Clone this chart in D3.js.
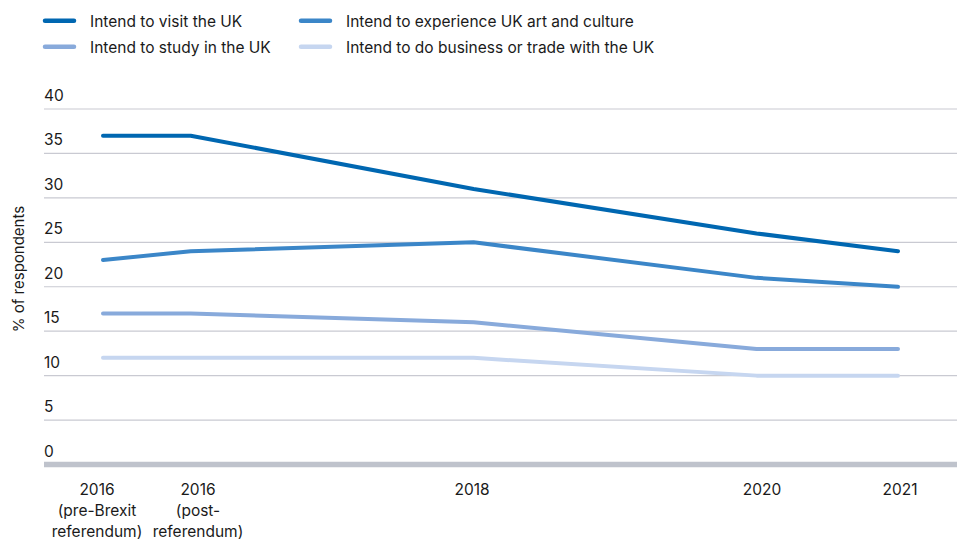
<!DOCTYPE html>
<html><head><meta charset="utf-8">
<script src="https://cdn.jsdelivr.net/npm/d3@7"></script>
<style>
body{margin:0;background:#fff;}
svg text{font-family:Inter,Roboto,"Noto Sans",sans-serif;fill:#1a1a1a;}
</style></head>
<body><svg id="c" width="957" height="540"></svg>
<script>
const categories = [["2016","(pre-Brexit","referendum)"],["2016","(post-","referendum)"],["2018"],["2020"],["2021"]];
const xValues = [2015.38, 2016, 2018, 2020, 2021];
const seriesNames = ["Intend to visit the UK","Intend to experience UK art and culture","Intend to study in the UK","Intend to do business or trade with the UK"];
const visit = [37, 37, 31, 26, 24];
const art = [23, 24, 25, 21, 20];
const study = [17, 17, 16, 13, 13];
const business = [12, 12, 12, 10, 10];
const yTicks = [0,5,10,15,20,25,30,35,40];
const colors = ["#0067b1","#3b86c8","#88aadb","#c6d6f0"];

const svg = d3.select("#c");
const x = d3.scaleLinear().domain([xValues[0], xValues[4]]).range([103, 898]);
// tick labels sit slightly off the data points in the reference
const xl = d3.scaleLinear().domain(xValues).range([97, 198, 472, 762, 900]);
const y = d3.scaleLinear().domain([0,40]).range([464.5, 109]);

// gridlines
svg.append("g").selectAll("line").data(yTicks.filter(d=>d>0)).join("line")
  .attr("x1",44).attr("x2",957).attr("y1",d=>y(d)).attr("y2",d=>y(d))
  .attr("stroke","#c9cad2").attr("stroke-width",1.2);
svg.append("line").attr("x1",44).attr("x2",957).attr("y1",y(0)).attr("y2",y(0))
  .attr("stroke","#bfc3cc").attr("stroke-width",5.5);
svg.append("g").selectAll("text").data(yTicks).join("text")
  .attr("x",44).attr("y",d=>y(d)-8).attr("font-size",15.5).text(d=>d);

svg.append("text").attr("transform","translate(24,269) rotate(-90)")
  .attr("text-anchor","middle").attr("font-size",15).text("% of respondents");

// x labels
const xg = svg.append("g").selectAll("text").data(categories).join("text")
  .attr("text-anchor","middle").attr("font-size",15.5)
  .attr("transform",(d,i)=>`translate(${xl(xValues[i])},495)`);
xg.selectAll("tspan").data(d=>d).join("tspan").attr("x",0).attr("dy",(d,i)=>i?21:0).text(d=>d);

// lines
const series = [visit, art, study, business];
const line = d3.line().x((d,i)=>x(xValues[i])).y(d=>y(d));
[3,2,1,0].forEach(k=>{
  svg.append("path").datum(series[k]).attr("d",line).attr("fill","none")
    .attr("stroke",colors[k]).attr("stroke-width",4).attr("stroke-linecap","round").attr("stroke-linejoin","round");
});

// legend
const leg = [{i:0,x:45,y:20.7},{i:1,x:301,y:20.7},{i:2,x:45,y:46.7},{i:3,x:301,y:46.7}];
const lg = svg.append("g").selectAll("g").data(leg).join("g").attr("transform",d=>`translate(${d.x},${d.y})`);
lg.append("line").attr("x1",0).attr("x2",29).attr("stroke",d=>colors[d.i]).attr("stroke-width",4.5).attr("stroke-linecap","round");
lg.append("text").attr("x",45).attr("y",6).attr("font-size",15.5).text(d=>seriesNames[d.i]);
</script></body></html>
